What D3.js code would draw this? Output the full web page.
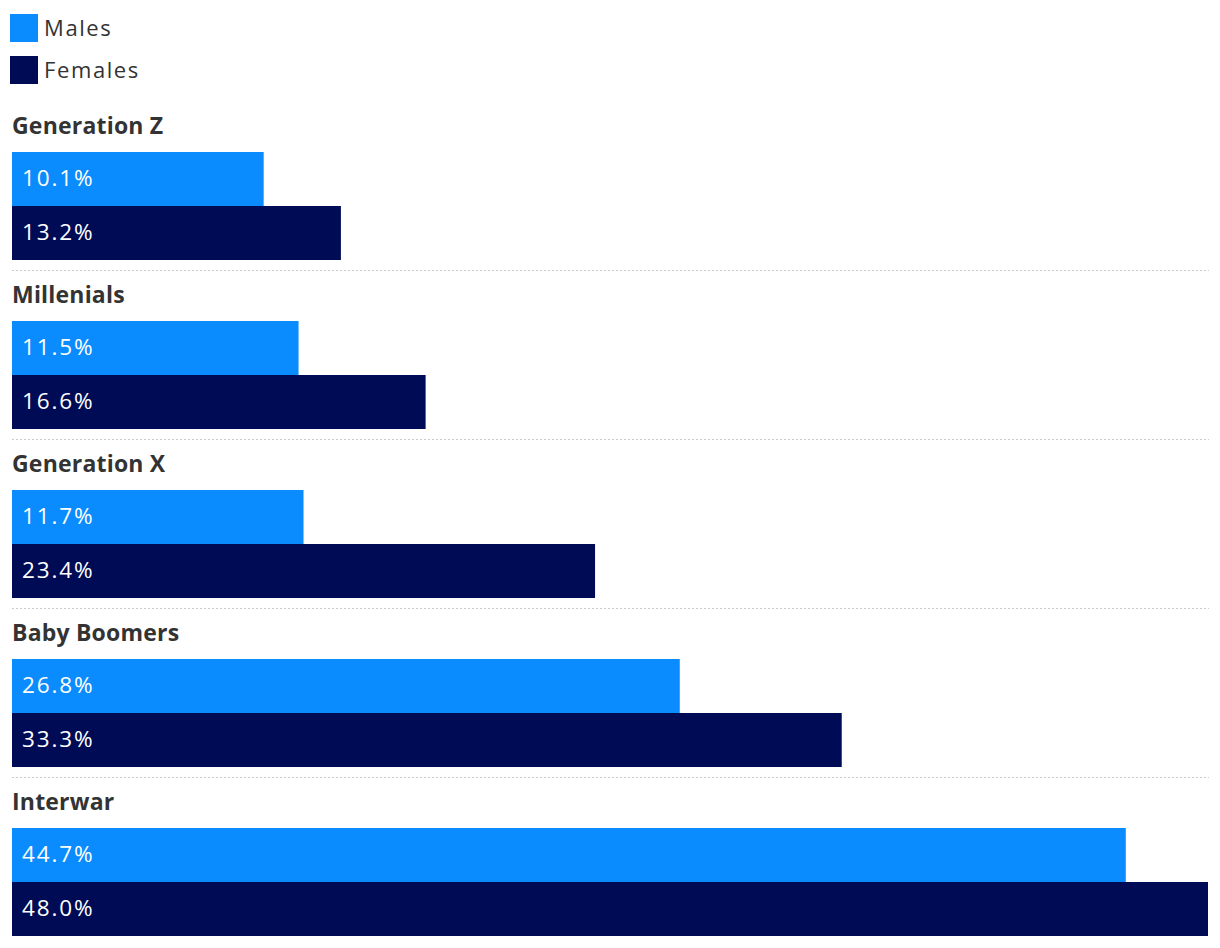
<!DOCTYPE html>
<html>
<head>
<meta charset="utf-8">
<script src="https://cdn.jsdelivr.net/npm/d3@7"></script>
<style>
  html, body { margin: 0; padding: 0; background: #fff; }
  svg { display: block; font-family: "Open Sans", Lato, sans-serif; }
</style>
</head>
<body>
<svg id="chart" width="1220" height="948"></svg>
<script>
const categories = ["Generation Z", "Millenials", "Generation X", "Baby Boomers", "Interwar"];
const males = [10.1, 11.5, 11.7, 26.8, 44.7];
const females = [13.2, 16.6, 23.4, 33.3, 48.0];
const seriesNames = ["Males", "Females"];
const colors = ["#0a8cff", "#000b55"];

const svg = d3.select("#chart");
const x = d3.scaleLinear().domain([0, 48]).range([12, 1208]);
const groupY = d3.scaleBand().domain(categories).range([110, 110 + 169 * categories.length]).padding(0);
const barH = 54;

// Legend
const legend = svg.append("g");
seriesNames.forEach((name, i) => {
  const g = legend.append("g").attr("transform", `translate(10, ${14 + i * 42})`);
  g.append("rect").attr("width", 28).attr("height", 28).attr("fill", colors[i]);
  g.append("text").attr("x", 34).attr("y", 22)
    .attr("font-size", 22).attr("letter-spacing", 1.6).attr("fill", "#333").text(name);
});

const data = categories.map((c, i) => ({ cat: c, vals: [males[i], females[i]] }));

const groups = svg.selectAll("g.grp").data(data).enter().append("g")
  .attr("class", "grp")
  .attr("transform", d => `translate(0, ${groupY(d.cat)})`);

groups.append("text")
  .attr("x", 12).attr("y", 23.5)
  .attr("font-size", 23).attr("font-weight", 700).attr("letter-spacing", 0.2).attr("fill", "#333")
  .text(d => d.cat);

groups.each(function(d) {
  const g = d3.select(this);
  d.vals.forEach((v, j) => {
    g.append("rect")
      .attr("x", x(0)).attr("y", 42 + j * barH)
      .attr("width", x(v) - x(0)).attr("height", barH)
      .attr("fill", colors[j]);
    g.append("text")
      .attr("x", x(0) + 10).attr("y", 42 + j * barH + barH / 2 + 7)
      .attr("font-size", 22.5).attr("letter-spacing", 1.9).attr("fill", "#fff")
      .text(v.toFixed(1) + "%");
  });
});

groups.filter((d, i) => i < categories.length - 1).append("line")
  .attr("x1", 12).attr("x2", 1209).attr("y1", 160.5).attr("y2", 160.5)
  .attr("stroke", "#ccc").attr("stroke-width", 1).attr("stroke-dasharray", "2,2");
</script>
</body>
</html>
